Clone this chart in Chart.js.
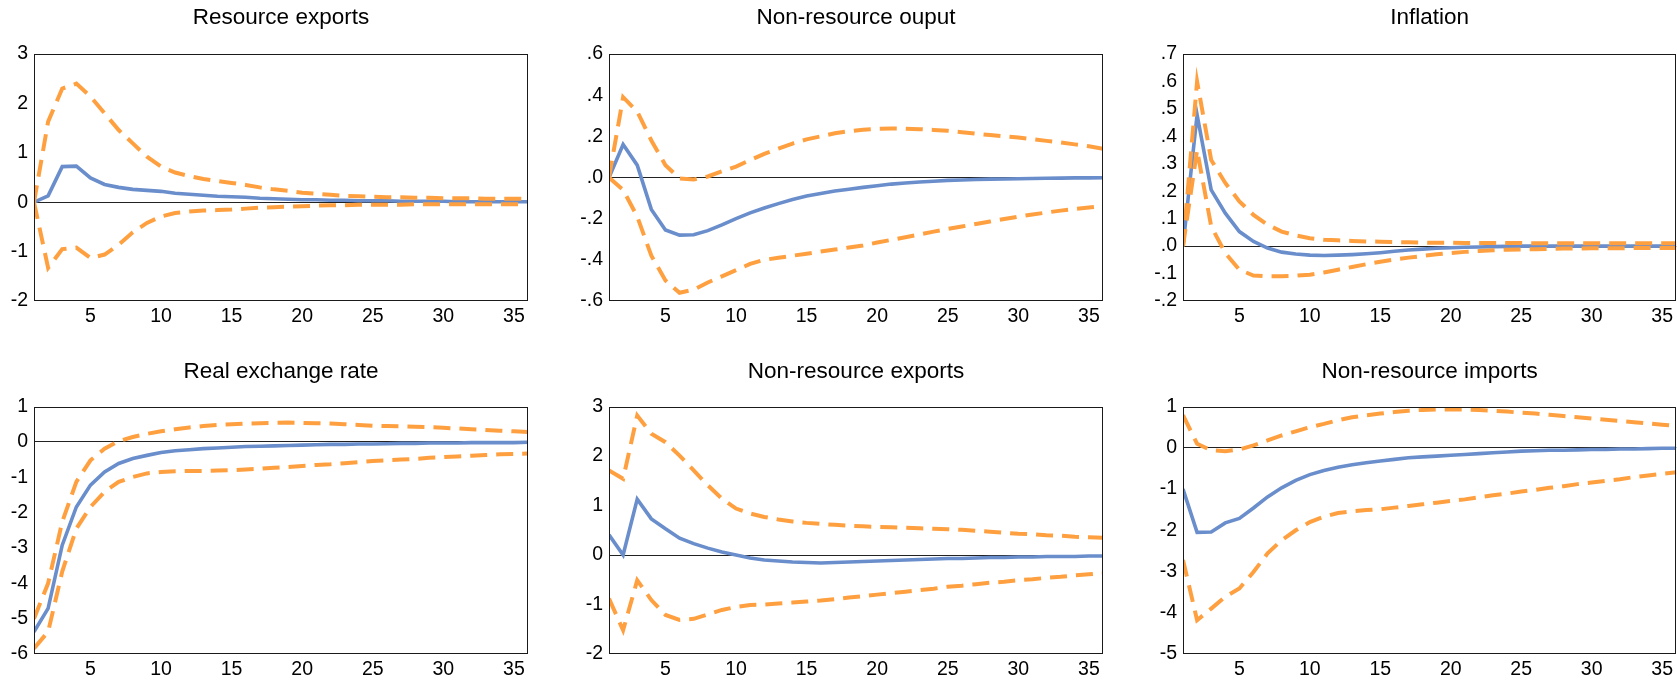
<!DOCTYPE html>
<html><head><meta charset="utf-8">
<script src="https://cdn.jsdelivr.net/npm/chart.js@4.4.1/dist/chart.umd.min.js"></script>
<style>
html,body{margin:0;padding:0;background:#fff;width:1677px;height:682px;overflow:hidden;}
canvas{position:absolute;}
</style></head><body>
<canvas id="c0"></canvas><canvas id="c1"></canvas><canvas id="c2"></canvas>
<canvas id="c3"></canvas><canvas id="c4"></canvas><canvas id="c5"></canvas>
<script>
// ---------- DATA ----------
const PERIODS = [1,2,3,4,5,6,7,8,9,10,11,12,13,14,15,16,17,18,19,20,21,22,23,24,25,26,27,28,29,30,31,32,33,34,35,36];
const X_TICKS = [5,10,15,20,25,30,35];
const TITLES = ["Resource exports","Non-resource ouput","Inflation","Real exchange rate","Non-resource exports","Non-resource imports"];

// Resource exports
const RESX_MEAN  = [0,0.13,0.72,0.73,0.49,0.36,0.30,0.26,0.24,0.22,0.18,0.16,0.14,0.12,0.11,0.10,0.08,0.07,0.06,0.05,0.05,0.04,0.04,0.03,0.03,0.03,0.02,0.02,0.02,0.02,0.01,0.01,0.01,0.01,0.01,0.01];
const RESX_UPPER = [0,1.63,2.3,2.4,2.14,1.8,1.46,1.19,0.92,0.72,0.6,0.53,0.47,0.43,0.39,0.35,0.3,0.26,0.23,0.19,0.17,0.15,0.13,0.12,0.11,0.1,0.1,0.09,0.09,0.08,0.08,0.08,0.07,0.07,0.07,0.07];
const RESX_LOWER = [0,-1.33,-0.95,-0.92,-1.13,-1.06,-0.86,-0.61,-0.42,-0.29,-0.22,-0.19,-0.17,-0.16,-0.15,-0.13,-0.11,-0.1,-0.09,-0.08,-0.07,-0.06,-0.06,-0.05,-0.05,-0.05,-0.05,-0.04,-0.04,-0.04,-0.04,-0.04,-0.04,-0.04,-0.04,-0.04];
const RESX_YTICKS = [-2,-1,0,1,2,3];
const RESX_YLABELS = ["-2","-1","0","1","2","3"];

// Non-resource output
const NRY_MEAN  = [0,0.16,0.06,-0.155,-0.255,-0.28,-0.278,-0.258,-0.23,-0.2,-0.172,-0.148,-0.127,-0.107,-0.09,-0.078,-0.066,-0.057,-0.048,-0.04,-0.032,-0.027,-0.022,-0.018,-0.014,-0.012,-0.01,-0.008,-0.007,-0.006,-0.005,-0.004,-0.003,-0.002,-0.002,-0.001];
const NRY_UPPER = [0,0.39,0.32,0.18,0.06,-0.005,-0.01,0.005,0.03,0.053,0.085,0.115,0.14,0.165,0.185,0.2,0.215,0.225,0.232,0.236,0.238,0.237,0.235,0.231,0.227,0.22,0.213,0.206,0.2,0.194,0.186,0.178,0.17,0.161,0.152,0.14];
const NRY_LOWER = [0,-0.06,-0.19,-0.38,-0.5,-0.56,-0.545,-0.51,-0.48,-0.45,-0.42,-0.4,-0.39,-0.38,-0.37,-0.36,-0.35,-0.34,-0.33,-0.316,-0.303,-0.29,-0.277,-0.263,-0.25,-0.238,-0.226,-0.214,-0.202,-0.19,-0.18,-0.17,-0.161,-0.153,-0.146,-0.14];
const NRY_YTICKS = [-0.6,-0.4,-0.2,0,0.2,0.4,0.6];
const NRY_YLABELS = ["-.6","-.4","-.2",".0",".2",".4",".6"];

// Inflation
const INF_MEAN  = [0,0.478,0.205,0.12,0.053,0.017,-0.007,-0.022,-0.029,-0.033,-0.034,-0.033,-0.031,-0.028,-0.024,-0.019,-0.014,-0.011,-0.008,-0.006,-0.004,-0.003,-0.002,-0.001,0,0,0,0,0,0,0,0,0,0,0,0];
const INF_UPPER = [0,0.6,0.314,0.23,0.163,0.114,0.078,0.053,0.039,0.029,0.023,0.021,0.019,0.017,0.016,0.015,0.014,0.013,0.012,0.012,0.011,0.011,0.011,0.011,0.011,0.01,0.01,0.01,0.01,0.01,0.01,0.01,0.01,0.01,0.01,0.01];
const INF_LOWER = [0,0.35,0.072,-0.025,-0.086,-0.107,-0.11,-0.11,-0.108,-0.104,-0.096,-0.086,-0.076,-0.066,-0.057,-0.049,-0.042,-0.036,-0.03,-0.025,-0.021,-0.018,-0.015,-0.013,-0.012,-0.011,-0.01,-0.009,-0.009,-0.008,-0.008,-0.008,-0.007,-0.007,-0.007,-0.007];
const INF_YTICKS = [-0.2,-0.1,0,0.1,0.2,0.3,0.4,0.5,0.6,0.7];
const INF_YLABELS = ["-.2","-.1",".0",".1",".2",".3",".4",".5",".6",".7"];

// Real exchange rate
const RER_MEAN  = [-5.37,-4.71,-2.92,-1.84,-1.22,-0.85,-0.61,-0.47,-0.38,-0.3,-0.25,-0.22,-0.19,-0.17,-0.15,-0.13,-0.12,-0.11,-0.1,-0.09,-0.08,-0.07,-0.07,-0.06,-0.06,-0.05,-0.04,-0.04,-0.03,-0.03,-0.03,-0.02,-0.02,-0.02,-0.02,-0.01];
const RER_UPPER = [-5.0,-4.0,-2.26,-1.13,-0.52,-0.19,0.02,0.14,0.23,0.3,0.36,0.41,0.45,0.48,0.5,0.52,0.53,0.54,0.55,0.54,0.53,0.52,0.5,0.48,0.46,0.45,0.44,0.43,0.42,0.4,0.38,0.36,0.34,0.32,0.3,0.28];
const RER_LOWER = [-5.84,-5.37,-3.67,-2.45,-1.84,-1.41,-1.13,-0.99,-0.89,-0.85,-0.83,-0.82,-0.82,-0.81,-0.8,-0.78,-0.76,-0.73,-0.71,-0.68,-0.65,-0.63,-0.6,-0.57,-0.54,-0.52,-0.5,-0.48,-0.45,-0.43,-0.41,-0.39,-0.37,-0.35,-0.34,-0.33];
const RER_YTICKS = [-6,-5,-4,-3,-2,-1,0,1];
const RER_YLABELS = ["-6","-5","-4","-3","-2","-1","0","1"];

// Non-resource exports
const NRX_MEAN  = [0.41,0.0,1.13,0.73,0.53,0.34,0.23,0.14,0.06,0.0,-0.06,-0.1,-0.12,-0.14,-0.15,-0.16,-0.15,-0.14,-0.13,-0.12,-0.11,-0.1,-0.09,-0.08,-0.07,-0.07,-0.06,-0.05,-0.05,-0.04,-0.04,-0.03,-0.03,-0.03,-0.02,-0.02];
const NRX_UPPER = [1.71,1.54,2.82,2.45,2.28,2.01,1.71,1.41,1.14,0.94,0.84,0.77,0.72,0.68,0.65,0.63,0.61,0.59,0.58,0.57,0.56,0.55,0.54,0.53,0.52,0.51,0.49,0.47,0.45,0.43,0.42,0.4,0.39,0.37,0.36,0.35];
const NRX_LOWER = [-0.88,-1.52,-0.51,-0.91,-1.21,-1.31,-1.29,-1.2,-1.11,-1.05,-1.01,-1.0,-0.98,-0.96,-0.94,-0.92,-0.89,-0.86,-0.83,-0.8,-0.77,-0.74,-0.71,-0.68,-0.64,-0.62,-0.59,-0.56,-0.54,-0.51,-0.49,-0.46,-0.44,-0.41,-0.39,-0.37];
const NRX_YTICKS = [-2,-1,0,1,2,3];
const NRX_YLABELS = ["-2","-1","0","1","2","3"];

// Non-resource imports
const NRM_MEAN  = [-1.0,-2.05,-2.04,-1.82,-1.71,-1.46,-1.19,-0.97,-0.79,-0.65,-0.55,-0.47,-0.41,-0.36,-0.32,-0.28,-0.24,-0.22,-0.2,-0.18,-0.16,-0.14,-0.12,-0.1,-0.08,-0.07,-0.06,-0.06,-0.05,-0.04,-0.04,-0.03,-0.03,-0.02,-0.01,-0.01];
const NRM_UPPER = [0.79,0.1,-0.06,-0.08,-0.04,0.06,0.18,0.3,0.4,0.5,0.58,0.67,0.74,0.79,0.83,0.87,0.9,0.92,0.93,0.93,0.93,0.92,0.9,0.88,0.85,0.83,0.8,0.77,0.74,0.71,0.68,0.65,0.62,0.59,0.56,0.53];
const NRM_LOWER = [-2.72,-4.18,-3.9,-3.61,-3.41,-3.01,-2.56,-2.24,-2.0,-1.8,-1.67,-1.58,-1.54,-1.51,-1.49,-1.45,-1.41,-1.37,-1.33,-1.29,-1.25,-1.2,-1.15,-1.11,-1.06,-1.02,-0.97,-0.93,-0.88,-0.84,-0.8,-0.76,-0.71,-0.67,-0.63,-0.59];
const NRM_YTICKS = [-5,-4,-3,-2,-1,0,1];
const NRM_YLABELS = ["-5","-4","-3","-2","-1","0","1"];

// ---------- CHART BUILDING ----------
const PANELS = [
  {mean:RESX_MEAN, up:RESX_UPPER, lo:RESX_LOWER, ticks:RESX_YTICKS, labels:RESX_YLABELS},
  {mean:NRY_MEAN,  up:NRY_UPPER,  lo:NRY_LOWER,  ticks:NRY_YTICKS,  labels:NRY_YLABELS},
  {mean:INF_MEAN,  up:INF_UPPER,  lo:INF_LOWER,  ticks:INF_YTICKS,  labels:INF_YLABELS},
  {mean:RER_MEAN,  up:RER_UPPER,  lo:RER_LOWER,  ticks:RER_YTICKS,  labels:RER_YLABELS},
  {mean:NRX_MEAN,  up:NRX_UPPER,  lo:NRX_LOWER,  ticks:NRX_YTICKS,  labels:NRX_YLABELS},
  {mean:NRM_MEAN,  up:NRM_UPPER,  lo:NRM_LOWER,  ticks:NRM_YTICKS,  labels:NRM_YLABELS}
];

// layout of each panel canvas (styling)
const BOXES = [
  {left:0,    top:0,   w:532, h:331, yW:34, tPadT:4.5,  tPadB:22.5, padR:4},
  {left:569,  top:0,   w:538, h:331, yW:40, tPadT:4.5,  tPadB:22.5, padR:4},
  {left:1143, top:0,   w:534, h:331, yW:40, tPadT:4.5,  tPadB:22.5, padR:0},
  {left:0,    top:341, w:532, h:343, yW:34, tPadT:17.0, tPadB:21.6, padR:4},
  {left:569,  top:341, w:538, h:343, yW:40, tPadT:17.0, tPadB:21.6, padR:4},
  {left:1143, top:341, w:534, h:343, yW:40, tPadT:17.0, tPadB:21.6, padR:0}
];

const FONT = "'Liberation Sans', Arial, sans-serif";
const BLUE = '#6a8ecb';
const ORANGE = '#ffa040';

const frame = {
  id: 'frame',
  afterDatasetsDraw(chart) {
    const a = chart.chartArea, c = chart.ctx;
    c.save();
    c.strokeStyle = '#1a1a1a';
    c.lineWidth = 1;
    c.strokeRect(Math.round(a.left) + 0.5, Math.round(a.top) + 0.5,
                 Math.round(a.right) - Math.round(a.left) - 1, Math.round(a.bottom) - Math.round(a.top) - 1);
    c.restore();
  }
};

function pts(arr) { return PERIODS.map((p, i) => ({x: p, y: arr[i]})); }

PANELS.forEach((P, i) => {
  const B = BOXES[i];
  const cv = document.getElementById('c' + i);
  cv.width = B.w; cv.height = B.h;
  cv.style.left = B.left + 'px'; cv.style.top = B.top + 'px';
  cv.style.width = B.w + 'px'; cv.style.height = B.h + 'px';
  const ymin = P.ticks[0], ymax = P.ticks[P.ticks.length - 1];
  new Chart(cv, {
    type: 'line',
    data: {
      datasets: [
        {data: pts(P.up), borderColor: ORANGE, borderWidth: 4, borderDash: [17, 9], pointRadius: 0, tension: 0, fill: false},
        {data: pts(P.lo), borderColor: ORANGE, borderWidth: 4, borderDash: [17, 9], pointRadius: 0, tension: 0, fill: false},
        {data: pts(P.mean), borderColor: BLUE, borderWidth: 3.6, pointRadius: 0, tension: 0, fill: false}
      ]
    },
    options: {
      responsive: false, animation: false, devicePixelRatio: 1,
      layout: {padding: {left: 0, right: B.padR, top: 0, bottom: 0}},
      plugins: {
        legend: {display: false}, tooltip: {enabled: false},
        title: {display: true, text: TITLES[i], color: '#000', fullSize: false,
                font: {family: FONT, size: 22.5, weight: 'normal', lineHeight: 1.2},
                padding: {top: B.tPadT, bottom: B.tPadB}}
      },
      scales: {
        x: {
          type: 'linear', min: PERIODS[0], max: PERIODS[PERIODS.length - 1],
          afterBuildTicks: s => { s.ticks = X_TICKS.map(v => ({value: v})); },
          afterFit: s => { s.height = 30; },
          grid: {display: false, drawTicks: false},
          border: {display: false},
          ticks: {color: '#000', font: {family: FONT, size: 19.5}, padding: 4, maxRotation: 0, autoSkip: false}
        },
        y: {
          min: ymin, max: ymax,
          afterBuildTicks: s => { s.ticks = P.ticks.map(v => ({value: v})); },
          afterFit: s => { s.width = B.yW; },
          grid: {drawTicks: false, lineWidth: 1,
                 color: c => (c.tick && Math.abs(c.tick.value) < 1e-9) ? '#222' : 'rgba(0,0,0,0)'},
          border: {display: false},
          ticks: {color: '#000', font: {family: FONT, size: 19.5}, padding: 6, autoSkip: false,
                  callback: (v) => { const k = P.ticks.findIndex(t => Math.abs(t - v) < 1e-9); return k >= 0 ? P.labels[k] : ''; }}
        }
      }
    },
    plugins: [frame]
  });
});
</script>
</body></html>
